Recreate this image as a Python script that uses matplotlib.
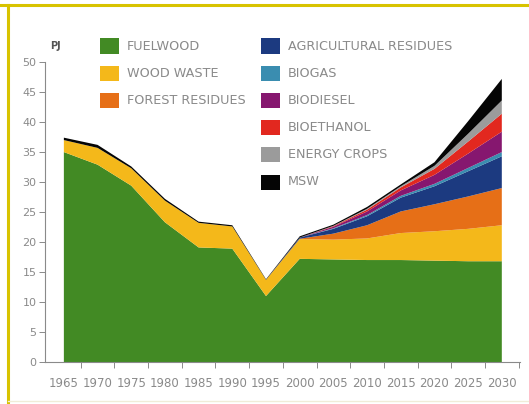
import matplotlib
matplotlib.use("Agg")
import matplotlib.pyplot as plt
from matplotlib.patches import Rectangle
from matplotlib.lines import Line2D

# Bioenergy supply by source, PJ
years = [1965, 1970, 1975, 1980, 1985, 1990, 1995, 2000, 2005, 2010, 2015, 2020, 2025, 2030]
fuelwood = [35.0, 32.9, 29.4, 23.3, 19.1, 18.9, 11.0, 17.2, 17.1, 17.0, 17.0, 16.9, 16.8, 16.8]
wood_waste = [2.0, 2.8, 2.9, 3.6, 4.1, 3.7, 2.7, 3.3, 3.3, 3.6, 4.5, 4.9, 5.4, 6.0]
forest_residues = [0, 0, 0, 0, 0, 0, 0, 0.05, 1.0, 2.2, 3.6, 4.5, 5.4, 6.2]
agricultural_residues = [0, 0, 0, 0, 0, 0, 0, 0.2, 0.8, 1.5, 2.3, 3.0, 4.2, 5.3]
biogas = [0, 0, 0, 0, 0, 0, 0, 0, 0.1, 0.2, 0.3, 0.4, 0.55, 0.7]
biodiesel = [0, 0, 0, 0, 0, 0, 0, 0, 0.25, 0.6, 0.9, 1.5, 2.4, 3.4]
bioethanol = [0, 0, 0, 0, 0, 0, 0, 0, 0.1, 0.3, 0.5, 1.0, 2.0, 3.0]
energy_crops = [0, 0, 0, 0, 0, 0, 0, 0, 0.05, 0.15, 0.2, 0.5, 1.3, 2.2]
msw = [0.4, 0.5, 0.3, 0.3, 0.2, 0.2, 0.1, 0.2, 0.2, 0.3, 0.3, 0.6, 2.1, 3.6]

series = [
    ("FUELWOOD", fuelwood, "#428a24"),
    ("WOOD WASTE", wood_waste, "#f4b81a"),
    ("FOREST RESIDUES", forest_residues, "#e66f17"),
    ("AGRICULTURAL RESIDUES", agricultural_residues, "#1c3a80"),
    ("BIOGAS", biogas, "#3a8db0"),
    ("BIODIESEL", biodiesel, "#86176f"),
    ("BIOETHANOL", bioethanol, "#e2281f"),
    ("ENERGY CROPS", energy_crops, "#9b9b9b"),
    ("MSW", msw, "#050505"),
]

W, H = 529, 404
fig = plt.figure(figsize=(W / 100, H / 100), dpi=100)
fig.patch.set_facecolor("white")

ax = fig.add_axes([45 / W, (H - 362) / H, (520 - 45) / W, 300.5 / H])
ax.stackplot(years, *[s[1] for s in series], colors=[s[2] for s in series],
             linewidth=0)
ax.set_xlim(1962.2, 2032.7)
ax.set_ylim(0, 50.1)

grey = "#8a8a8a"
label_grey = "#8a8a8a"
for side in ("top", "right"):
    ax.spines[side].set_visible(False)
for side in ("left", "bottom"):
    ax.spines[side].set_color(grey)
    ax.spines[side].set_linewidth(0.8)

ax.set_yticks(range(0, 51, 5))
ax.tick_params(axis="y", direction="out", length=4, width=0.7, color=grey,
               labelcolor=label_grey, labelsize=8, pad=2)

# year labels sit under the data points, tick marks fall between them
ax.set_xticks([y + 2.5 for y in years])
ax.set_xticks(years, minor=True)
ax.set_xticklabels([])
ax.set_xticklabels([str(y) for y in years], minor=True)
ax.tick_params(axis="x", which="major", direction="out", length=4, width=0.7,
               color=grey)
ax.tick_params(axis="x", which="minor", length=0, labelcolor=label_grey,
               labelsize=8.5, pad=11)

fig.text(50 / W, 1 - 46 / H, "PJ", fontsize=7, color="#555555",
         fontweight="bold", ha="left", va="center")

# legend in two columns
col_x = [100, 261]
for i, (name, _, color) in enumerate(series):
    col = 0 if i < 3 else 1
    row = i if i < 3 else i - 3
    x0 = col_x[col]
    yc = 46 + row * 27.2
    fig.patches.append(Rectangle((x0 / W, 1 - (yc + 7.5) / H), 19 / W, 15 / H,
                                 transform=fig.transFigure, facecolor=color,
                                 edgecolor="none"))
    fig.text((x0 + 27) / W, 1 - yc / H, name, fontsize=9.2, color=label_grey,
             ha="left", va="center")

# yellow frame on the top and left edges
fig.add_artist(Line2D([0, 1], [1 - 5 / H, 1 - 5 / H], transform=fig.transFigure,
                      color="#d8c300", linewidth=2.2))
fig.add_artist(Line2D([8 / W, 8 / W], [0, 1 - 5 / H], transform=fig.transFigure,
                      color="#d8c300", linewidth=2.2))
fig.add_artist(Line2D([8 / W, 1], [1 - 401 / H, 1 - 401 / H],
                      transform=fig.transFigure, color="#f0ecd8", linewidth=1.0))

fig.savefig("out.png", dpi=100, facecolor="white")
